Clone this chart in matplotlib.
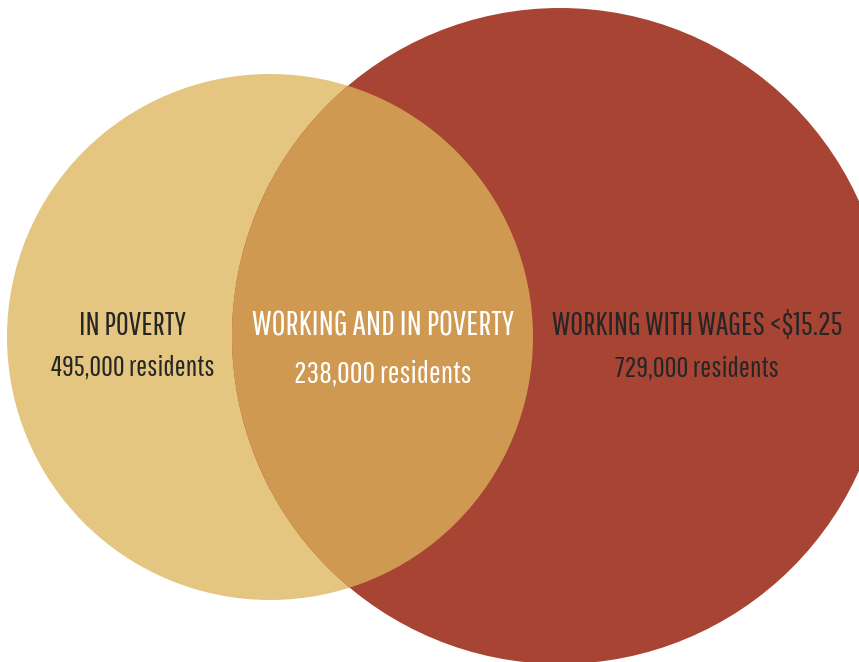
import matplotlib
matplotlib.use('Agg')
import matplotlib.pyplot as plt
from matplotlib.patches import Circle
from matplotlib.textpath import TextPath
from matplotlib.font_manager import FontProperties

# Data
groups = ["IN POVERTY", "WORKING WITH WAGES <$15.25"]
group_counts = [495000, 729000]
overlap_label = "WORKING AND IN POVERTY"
overlap_count = 238000

# Layout (pixel coordinates, y down)
W, H = 859, 662
centers = [(270, 337), (560, 336)]
radii = [263, 328]
circle_colors = ['#E5C680', '#A84433']
overlap_color = '#CF9951'
text_dark = '#262626'
FONT = ['Pathway Gothic One', 'Sofia Sans Extra Condensed', 'Liberation Sans', 'DejaVu Sans']
CAP_PX = 22  # cap height in the reference

fig = plt.figure(figsize=(W / 100, H / 100), dpi=100)
ax = fig.add_axes([0, 0, 1, 1])
ax.set_xlim(0, W)
ax.set_ylim(H, 0)
ax.set_aspect('equal')
ax.axis('off')

# Circles
for (cx, cy), r, c in zip(centers, radii, circle_colors):
    ax.add_patch(Circle((cx, cy), r, facecolor=c, edgecolor='none'))

# Overlap: left circle clipped by right circle
ov = Circle(centers[0], radii[0], facecolor=overlap_color, edgecolor='none', zorder=3)
ax.add_patch(ov)
ov.set_clip_path(Circle(centers[1], radii[1], transform=ax.transData))

# font size: match cap height, nudged toward the reference line width
fp = FontProperties(family=FONT)
cap = TextPath((0, 0), "H", size=100, prop=fp).get_extents().height / 100
base = CAP_PX / cap * 72 / 100


def size_for(s, target_w):
    w = TextPath((0, 0), s, size=base, prop=fp).get_extents().width * 100 / 72
    return base * (target_w / w) ** 0.5


def label(x, y1, y2, title, count, color, w1, w2):
    ax.text(x, y1, title, ha='center', va='baseline', fontsize=size_for(title, w1),
            family=FONT, color=color, zorder=5)
    s = f"{count:,} residents"
    ax.text(x, y2, s, ha='center', va='baseline', fontsize=size_for(s, w2),
            family=FONT, color=color, zorder=5)


label(133, 335, 376, groups[0], group_counts[0], text_dark, 106, 151)
label(697, 335, 377, groups[1], group_counts[1], text_dark, 290, 151)
label(383, 335, 382, overlap_label, overlap_count, 'white', 282, 173)

fig.savefig('out.png', dpi=100)
